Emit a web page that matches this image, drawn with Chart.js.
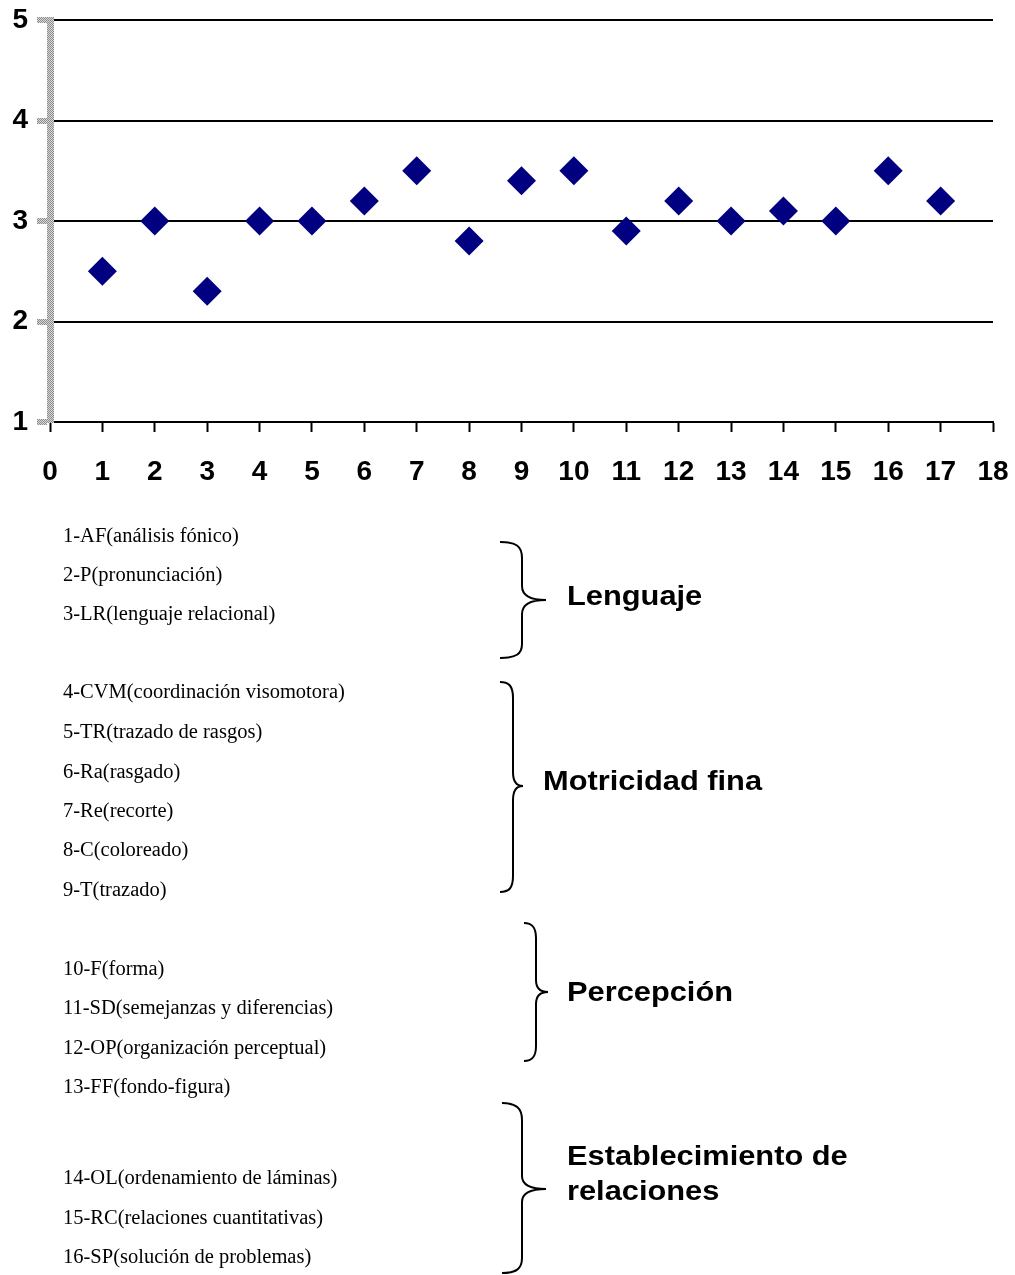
<!DOCTYPE html>
<html>
<head>
<meta charset="utf-8">
<script src="https://cdn.jsdelivr.net/npm/chart.js@4/dist/chart.umd.min.js"></script>
<style>
  body { margin: 0; background: #fff; }
  #page { position: relative; width: 1015px; height: 1275px; overflow: hidden; }
  #chart-wrap { position: absolute; left: 0; top: 0; width: 1015px; height: 495px; }
  .item { position: absolute; left: 63px; font-family: "Liberation Serif", "Times New Roman", serif; font-size: 20.5px; line-height: 24px; color: #000; white-space: nowrap; }
  .group { position: absolute; font-family: "Liberation Sans", Arial, sans-serif; font-weight: bold; font-size: 28px; line-height: 35px; color: #000; white-space: nowrap; transform: scaleX(1.1); transform-origin: left center; }
  svg { position: absolute; left: 0; top: 0; }
</style>
</head>
<body>
<div id="page">
  <div id="chart-wrap"><canvas id="chart-areas" width="1015" height="495"></canvas></div>
  <svg width="1015" height="1275">
    <g fill="none" stroke="#000" stroke-width="2">
      <path d="M500,542 C516,542 522,546 522,558 L522,586 C522,596 530,600 546,600 C530,600 522,604 522,614 L522,644 C522,654 516,658 500,658"/>
      <path d="M500,682 C509,682 513,686 513,698 L513,772 C513,782 517,786 523,786 C517,786 513,790 513,800 L513,876 C513,888 509,892 500,892"/>
      <path d="M524,923 C532,923 536,927 536,938 L536,980 C536,988 540,992 548,992 C540,992 536,996 536,1004 L536,1046 C536,1057 532,1061 524,1061"/>
      <path d="M502,1103 C516,1103 522,1108 522,1120 L522,1176 C522,1185 530,1189 546,1189 C530,1189 522,1193 522,1202 L522,1258 C522,1269 516,1273 502,1273"/>
    </g>
  </svg>
  <div id="items"></div>
  <div id="groups"></div>
</div>
<script>
// valores
const xValues = [1, 2, 3, 4, 5, 6, 7, 8, 9, 10, 11, 12, 13, 14, 15, 16, 17];
const yValues = [2.5, 3.0, 2.3, 3.0, 3.0, 3.2, 3.5, 2.8, 3.4, 3.5, 2.9, 3.2, 3.0, 3.1, 3.0, 3.5, 3.2];

const itemLabels = [
  "1-AF(análisis fónico)",
  "2-P(pronunciación)",
  "3-LR(lenguaje relacional)",
  "4-CVM(coordinación visomotora)",
  "5-TR(trazado de rasgos)",
  "6-Ra(rasgado)",
  "7-Re(recorte)",
  "8-C(coloreado)",
  "9-T(trazado)",
  "10-F(forma)",
  "11-SD(semejanzas y diferencias)",
  "12-OP(organización perceptual)",
  "13-FF(fondo-figura)",
  "14-OL(ordenamiento de láminas)",
  "15-RC(relaciones cuantitativas)",
  "16-SP(solución de problemas)",
];
const itemRows = [535, 574, 613, 691, 731, 771, 810, 849, 889, 968, 1007, 1047, 1086, 1177, 1217, 1256];

const groupLabels = ["Lenguaje", "Motricidad fina", "Percepción", "Establecimiento de", "relaciones"];
const groupRows = [595, 780, 991, 1155, 1190];
const groupLeft = [567, 543, 567, 567, 567];

// render lista
const itemsBox = document.getElementById("items");
itemLabels.forEach((txt, i) => {
  const d = document.createElement("div");
  d.className = "item";
  d.style.top = (itemRows[i] - 12) + "px";
  d.textContent = txt;
  itemsBox.appendChild(d);
});
const groupsBox = document.getElementById("groups");
groupLabels.forEach((txt, i) => {
  const d = document.createElement("div");
  d.className = "group";
  d.style.top = (groupRows[i] - 17.5) + "px";
  d.style.left = groupLeft[i] + "px";
  d.textContent = txt;
  groupsBox.appendChild(d);
});

// patron gris del eje y
function greyPattern() {
  const c = document.createElement("canvas");
  c.width = 2;
  c.height = 2;
  const g = c.getContext("2d");
  g.fillStyle = "#d8d8d8";
  g.fillRect(0, 0, 2, 2);
  g.fillStyle = "#8c8c8c";
  g.fillRect(0, 0, 1, 1);
  g.fillRect(1, 1, 1, 1);
  return g.createPattern(c, "repeat");
}
const axisGrey = greyPattern();

const tickFont = { family: "'Liberation Sans', Arial, sans-serif", size: 28, weight: "bold" };

const ctxAreas = document.getElementById("chart-areas");
new Chart(ctxAreas, {
  type: "scatter",
  data: {
    datasets: [
      {
        label: "Áreas",
        data: xValues.map((x, i) => ({ x: x, y: yValues[i] })),
        pointStyle: "rectRot",
        pointRadius: 14.5,
        pointHoverRadius: 14.5,
        borderWidth: 0,
        backgroundColor: "#000080",
        borderColor: "#000080",
      },
    ],
  },
  options: {
    responsive: false,
    animation: false,
    layout: { padding: { top: 20, right: 22, left: 0, bottom: 0 } },
    plugins: { legend: { display: false }, tooltip: { enabled: false } },
    scales: {
      x: {
        min: 0,
        max: 18,
        afterFit: (s) => {
          s.height = 73;
          s.paddingLeft = 0;
          s.paddingRight = 0;
        },
        ticks: { stepSize: 1, color: "#000", font: tickFont, padding: 23, maxRotation: 0, autoSkip: false },
        grid: { drawOnChartArea: false, tickLength: 10, tickColor: "#000", tickWidth: 2 },
        border: { color: "#000", width: 2 },
      },
      y: {
        min: 1,
        max: 5,
        afterFit: (s) => {
          s.width = 50;
          s.paddingTop = 0;
          s.paddingBottom = 0;
        },
        ticks: { stepSize: 1, color: "#000", font: tickFont, padding: 9 },
        grid: { color: "#000", lineWidth: 2, tickLength: 13, tickColor: axisGrey, tickWidth: 6 },
        border: { color: axisGrey, width: 7 },
      },
    },
  },
});
</script>
</body>
</html>
